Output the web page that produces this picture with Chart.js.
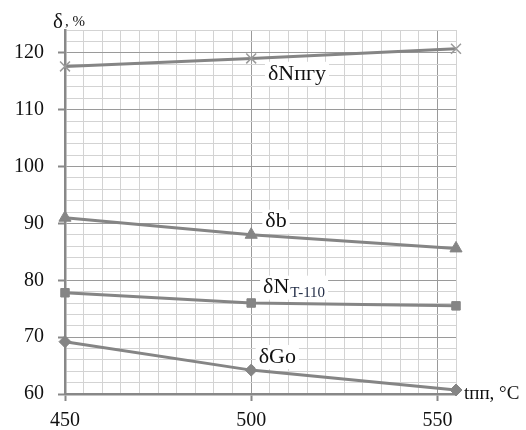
<!DOCTYPE html>
<html>
<head>
<meta charset="utf-8">
<script src="https://cdn.jsdelivr.net/npm/chart.js@4.4.0/dist/chart.umd.min.js"></script>
<style>
  html, body { margin: 0; padding: 0; background: #fff; }
  #wrap { width: 526px; height: 430px; }
</style>
</head>
<body>
<div id="wrap"><canvas id="myChart" width="526" height="430"></canvas></div>
<script>
const temps = [450, 500, 555];
const seriesNames = ['δNпгу', 'δb', 'δNT-110', 'δGo'];
const dNpgu = [117.6, 119.0, 120.7];
const dB = [91.0, 88.0, 85.6];
const dNt110 = [77.8, 76.0, 75.5];
const dGo = [69.2, 64.2, 60.7];
const xTicks = [450, 500, 550];
const yTicks = [60, 70, 80, 90, 100, 110, 120];

const lineGray = '#858585';
const font = 'Liberation Serif, "Times New Roman", serif';

function pts(vals) {
  return temps.map((t, i) => ({ x: t, y: vals[i] }));
}

function mkSet(name, vals, style, r) {
  return {
    label: name,
    data: pts(vals),
    borderColor: lineGray,
    backgroundColor: lineGray,
    borderWidth: 3,
    pointStyle: style,
    pointRadius: r,
    pointBorderWidth: style === 'crossRot' ? 1.5 : 1,
    pointBorderColor: style === 'crossRot' ? '#9a9a9a' : lineGray,
    tension: 0,
    clip: false
  };
}

// text labels placed in data coordinates
const curveLabels = [
  { main: 'δNпгу', sub: '', x: 504.5, y: 116.3 },
  { main: 'δb', sub: '', x: 503.8, y: 90.3 },
  { main: 'δN', sub: 'T-110', x: 503.2, y: 78.7 },
  { main: 'δGo', sub: '', x: 502, y: 66.5 }
];

const labelPlugin = {
  id: 'labels',
  afterDatasetsDraw(chart) {
    const c = chart.ctx;
    const xs = chart.scales.x, ys = chart.scales.y;
    c.save();
    c.textBaseline = 'middle';
    c.textAlign = 'left';
    curveLabels.forEach(l => {
      const px = xs.getPixelForValue(l.x);
      const py = ys.getPixelForValue(l.y);
      c.font = '22px ' + font;
      const w1 = c.measureText(l.main).width;
      c.font = '15px ' + font;
      const w2 = l.sub ? c.measureText(l.sub).width + 1 : 0;
      c.fillStyle = '#fff';
      c.fillRect(px - 3, py - 12, w1 + w2 + 6, 24);
      c.fillStyle = '#111';
      c.font = '22px ' + font;
      c.fillText(l.main, px, py);
      if (l.sub) {
        c.fillStyle = '#1f2a44';
        c.font = '15px ' + font;
        c.fillText(l.sub, px + w1 + 1, py + 5);
      }
    });
    // axis titles
    c.fillStyle = '#111';
    c.font = '21px ' + font;
    c.textBaseline = 'alphabetic';
    c.fillText('δ', 53, 28);
    c.font = '15px ' + font;
    c.fillText(', %', 65, 26);
    c.font = '19px ' + font;
    c.fillText('tпп, °C', 464, 399);
    c.restore();
  }
};

new Chart(document.getElementById('myChart'), {
  type: 'line',
  data: {
    datasets: [
      mkSet(seriesNames[0], dNpgu, 'crossRot', 7),
      mkSet(seriesNames[1], dB, 'triangle', 7),
      mkSet(seriesNames[2], dNt110, 'rect', 6),
      mkSet(seriesNames[3], dGo, 'rectRot', 6)
    ]
  },
  options: {
    responsive: false,
    animation: false,
    layout: { padding: { top: 30, right: 70, left: 0, bottom: 0 } },
    plugins: { legend: { display: false }, tooltip: { enabled: false } },
    scales: {
      x: {
        type: 'linear',
        min: 450,
        max: 555,
        afterFit(s) { s.height = 36; },
        afterBuildTicks(s) {
          const t = [];
          for (let v = 450; v <= 555; v += 5) t.push({ value: v });
          s.ticks = t;
        },
        ticks: {
          autoSkip: false,
          maxRotation: 0,
          padding: 8,
          color: '#111',
          font: { family: font, size: 20 },
          callback: v => xTicks.includes(v) ? String(v) : ''
        },
        grid: {
          color: c => xTicks.includes(c.tick.value) ? '#9a9a9a' : '#d3d3d3',
          lineWidth: 1,
          tickLength: 7,
          tickColor: c => xTicks.includes(c.tick.value) ? '#888' : 'rgba(0,0,0,0)',
          tickWidth: 2
        },
        border: { color: '#888', width: 2.5 }
      },
      y: {
        min: 60,
        max: 124,
        afterFit(s) { s.width = 65; },
        afterBuildTicks(s) {
          const t = [];
          for (let v = 60; v <= 124; v += 2) t.push({ value: v });
          s.ticks = t;
        },
        ticks: {
          autoSkip: false,
          padding: 14,
          color: '#111',
          font: { family: font, size: 20 },
          callback: v => yTicks.includes(v) ? String(v) : ''
        },
        grid: {
          color: c => yTicks.includes(c.tick.value) ? '#9a9a9a' : '#d3d3d3',
          lineWidth: 1,
          tickLength: 7,
          tickColor: c => yTicks.includes(c.tick.value) ? '#888' : 'rgba(0,0,0,0)',
          tickWidth: 2
        },
        border: { color: '#888', width: 2.5 }
      }
    }
  },
  plugins: [labelPlugin]
});
</script>
</body>
</html>
